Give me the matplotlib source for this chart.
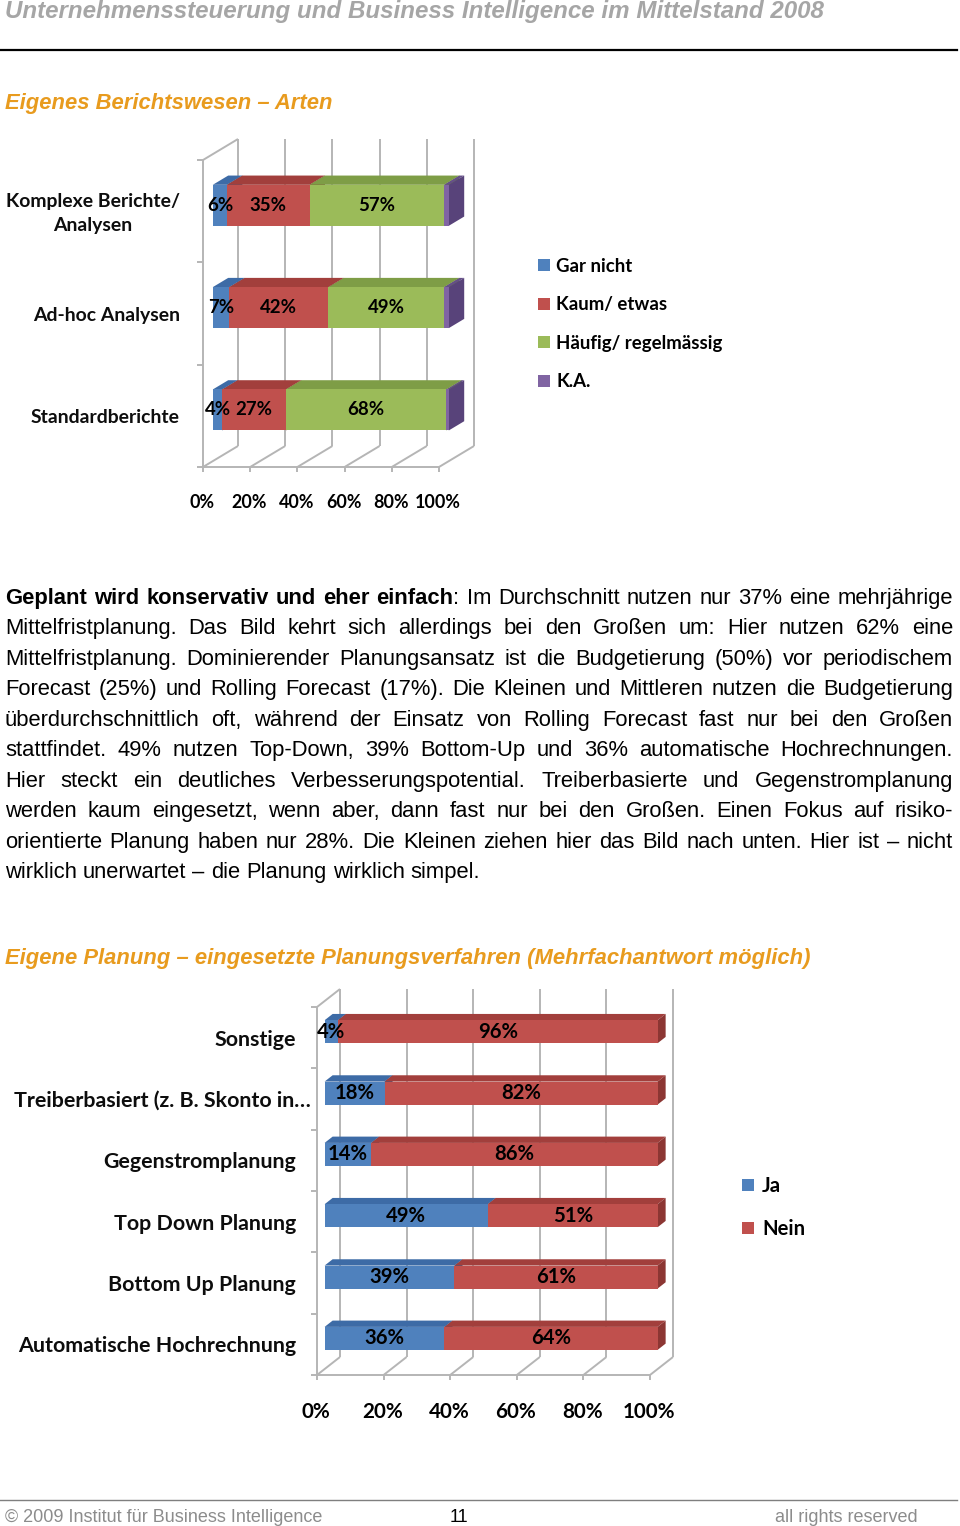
import re
import matplotlib
matplotlib.use('Agg')
import matplotlib.pyplot as plt
from matplotlib.patches import Polygon, Rectangle

W, H, DPI = 960, 1526, 100

# ---------------- DATA ----------------
header_text = "Unternehmenssteuerung und Business Intelligence im Mittelstand 2008"
title1 = "Eigenes Berichtswesen – Arten"
title2 = "Eigene Planung – eingesetzte Planungsverfahren (Mehrfachantwort möglich)"

c1_categories = ["Standardberichte", "Ad-hoc Analysen", "Komplexe Berichte/\nAnalysen"]
c1_series = ["Gar nicht", "Kaum/ etwas", "Häufig/ regelmässig", "K.A."]
c1_gar_nicht = [4, 7, 6]
c1_kaum = [27, 42, 35]
c1_haeufig = [68, 49, 57]
c1_ka = [1, 2, 2]
c1_ticks = [0, 20, 40, 60, 80, 100]
c1_tick_labels = ["0%", "20%", "40%", "60%", "80%", "100%"]

c2_categories = ["Automatische Hochrechnung", "Bottom Up Planung", "Top Down Planung",
                 "Gegenstromplanung", "Treiberbasiert (z. B. Skonto in…", "Sonstige"]
c2_series = ["Ja", "Nein"]
c2_ja = [36, 39, 49, 14, 18, 4]
c2_nein = [64, 61, 51, 86, 82, 96]
c2_ticks = [0, 20, 40, 60, 80, 100]
c2_tick_labels = ["0%", "20%", "40%", "60%", "80%", "100%"]

body_lines = [
    "**Geplant wird konservativ und eher einfach**: Im Durchschnitt nutzen nur 37% eine mehrjährige",
    "Mittelfristplanung. Das Bild kehrt sich allerdings bei den Großen um: Hier nutzen 62% eine",
    "Mittelfristplanung. Dominierender Planungsansatz ist die Budgetierung (50%) vor periodischem",
    "Forecast (25%) und Rolling Forecast (17%). Die Kleinen und Mittleren nutzen die Budgetierung",
    "überdurchschnittlich oft, während der Einsatz von Rolling Forecast fast nur bei den Großen",
    "stattfindet. 49% nutzen Top-Down, 39% Bottom-Up und 36% automatische Hochrechnungen.",
    "Hier steckt ein deutliches Verbesserungspotential. Treiberbasierte und Gegenstromplanung",
    "werden kaum eingesetzt, wenn aber, dann fast nur bei den Großen. Einen Fokus auf risiko-",
    "orientierte Planung haben nur 28%. Die Kleinen ziehen hier das Bild nach unten. Hier ist – nicht",
    "wirklich unerwartet – die Planung wirklich simpel.",
]
footer_left = "© 2009 Institut für Business Intelligence"
footer_page = "11"
footer_right = "all rights reserved"

# ---------------- STYLE ----------------
BLUE, RED, GREEN, PURPLE = '#4F81BD', '#C0504D', '#9BBB59', '#8064A2'
TOP = {BLUE: '#3D6BA6', RED: '#A23F3C', GREEN: '#7E9D46', PURPLE: '#654F88'}
SIDE = {BLUE: '#375D8C', RED: '#8C3633', GREEN: '#6F8A3C', PURPLE: '#58437A'}
ORANGE = '#E89B1E'
SANS = ['Liberation Sans', 'DejaVu Sans']
CHART = ['Lato', 'DejaVu Sans']

fig = plt.figure(figsize=(W / DPI, H / DPI), dpi=DPI)
fig.patch.set_facecolor('white')
renderer = fig.canvas.get_renderer()

page = fig.add_axes([0, 0, 1, 1])
page.set_xlim(0, W)
page.set_ylim(H, 0)
page.axis('off')


def text_width(s, size, **kw):
    t = page.text(0, 0, s, fontsize=size, **kw)
    w = t.get_window_extent(renderer).width
    t.remove()
    return w


def fit_size(s, target, **kw):
    return 20.0 * target / text_width(s, 20.0, **kw)


PT2PX = DPI / 72.0


def put(x, yc, s, size, ha='left', **kw):
    # yc = visual centre of the capitals in pixels
    page.text(x, yc + 0.36 * size * PT2PX, s, fontsize=size, ha=ha, va='baseline', **kw)


# ---------------- HEADER / TITLES ----------------
hs = fit_size(header_text, 817, family=SANS, weight='bold', style='italic')
put(5, 9, header_text, hs, family=SANS, weight='bold', style='italic', color='#A6A6A6')
page.plot([0, 957], [50, 50], color='black', lw=1.6)

ts = fit_size(title2, 805, family=SANS, weight='bold', style='italic')
put(5, 101, title1, ts, family=SANS, weight='bold', style='italic', color=ORANGE)
put(5, 956, title2, ts, family=SANS, weight='bold', style='italic', color=ORANGE)

# ---------------- BODY (justified) ----------------
bs = fit_size(body_lines[-1], 477, family=SANS)


def parse(line):
    segs = line.split('**')
    words, cur = [], []
    for k, seg in enumerate(segs):
        bold = (k % 2 == 1)
        for piece in re.split('( )', seg):
            if piece == ' ':
                if cur:
                    words.append(cur)
                cur = []
            elif piece:
                cur.append((piece, bold))
    if cur:
        words.append(cur)
    return words


L, R = 5, 953
space_w = text_width("a a", bs, family=SANS) - text_width("aa", bs, family=SANS)
for i, line in enumerate(body_lines):
    yc = 597 + 30.45 * i
    words = parse(line)
    widths = [[text_width(t, bs, family=SANS, weight='bold' if b else 'normal') for t, b in w] for w in words]
    total = sum(sum(ws) for ws in widths)
    last = (i == len(body_lines) - 1)
    gap = space_w if last else (R - L - total) / (len(words) - 1)
    x = L
    for w, ws in zip(words, widths):
        for (t, b), tw in zip(w, ws):
            put(x, yc - 1, t, bs, family=SANS, weight='bold' if b else 'normal', color='black')
            x += tw
        x += gap

# ---------------- FOOTER ----------------
page.plot([0, 957], [1500, 1500], color='#7F7F7F', lw=1.0)
fs = fit_size(footer_left, 317, family=SANS)
put(5, 1515, footer_left, fs, family=SANS, color='#8C8C8C')
put(459, 1515, footer_page, fs, family=SANS, color='black', ha='center')
put(918, 1515, footer_right, fs, family=SANS, color='#8C8C8C', ha='right')


# ---------------- 3D STACKED BAR CHARTS ----------------
def chart_axes(box, x0, sx, y0, sy):
    l, t, r, b = box
    ax = fig.add_axes([l / W, 1 - b / H, (r - l) / W, (b - t) / H])
    ax.set_xlim((l - x0) / sx, (r - x0) / sx)
    ax.set_ylim((y0 - b) / sy, (y0 - t) / sy)
    ax.axis('off')
    return ax


def draw_chart(ax, cats, series, colors, ticks, tick_labels, sx, sy, ddx, ddy, z0, z1, h,
               cat_size, lab_size, tick_size, cat_off, tick_off, min_label):
    P = lambda x, y, z: (x + z * ddx, y + z * ddy)
    ncat = len(cats)
    gc, glw = '#B5B5B5', 1.4

    def seg(a, b):
        ax.plot([a[0], b[0]], [a[1], b[1]], color=gc, lw=glw, zorder=1, solid_capstyle='butt')

    for v in ticks:
        seg(P(v, 0, 1), P(v, ncat, 1))          # back wall grid
        seg(P(v, 0, 0), P(v, 0, 1))             # floor grid
        seg(P(v, 0, 0), P(v, -5 / sy, 0))       # floor tick
    seg(P(ticks[0], 0, 0), P(ticks[-1], 0, 0))  # floor front edge
    seg(P(0, 0, 0), P(0, ncat, 0))              # left wall front edge
    seg(P(0, ncat, 0), P(0, ncat, 1))           # left wall top edge
    for k in range(ncat + 1):
        seg(P(0, k, 0), P(-6 / sx, k, 0))       # category ticks

    z = 3
    for i in range(ncat):
        yb, yt = i + 0.5 - h / 2, i + 0.5 + h / 2
        left = 0
        for vals, col in zip(series, colors):
            v = vals[i]
            x1, x2 = left, left + v
            ax.add_patch(Polygon([P(x1, yt, z0), P(x2, yt, z0), P(x2, yt, z1), P(x1, yt, z1)],
                                 closed=True, facecolor=TOP[col], edgecolor='none', zorder=z))
            ax.add_patch(Polygon([P(x2, yb, z0), P(x2, yb, z1), P(x2, yt, z1), P(x2, yt, z0)],
                                 closed=True, facecolor=SIDE[col], edgecolor='none', zorder=z))
            ax.barh(i + 0.5 + z0 * ddy, v, left=x1 + z0 * ddx, height=h, color=col,
                    edgecolor='none', zorder=z + 0.5)
            if v > min_label:
                cx, cy = P(x1 + v / 2, i + 0.5, z0)
                ax.text(cx, cy, f"{v}%", ha='center', va='center', fontsize=lab_size,
                        family=CHART, weight='bold', color='black', zorder=50)
            left = x2
            z += 1

    for i, c in enumerate(cats):
        off = cat_off if not c.endswith('…') else -6
        ax.annotate(c, xy=(0, i + 0.5), xytext=(off, -2), textcoords='offset pixels',
                    ha='right', va='center', multialignment='center', fontsize=cat_size,
                    family=CHART, weight='bold', color='#0D0D0D', linespacing=1.5)
    for v, lab in zip(ticks, tick_labels):
        ax.annotate(lab, xy=(v, 0), xytext=(-1, tick_off), textcoords='offset pixels',
                    ha='center', va='center', fontsize=tick_size, family=CHART,
                    weight='bold', color='black')


# Chart 1
sx1, sy1 = 2.36, 102.33
ax1 = chart_axes((0, 120, 520, 530), 203, sx1, 467, sy1)
draw_chart(ax1, c1_categories, [c1_gar_nicht, c1_kaum, c1_haeufig, c1_ka],
           [BLUE, RED, GREEN, PURPLE], c1_ticks, c1_tick_labels, sx1, sy1,
           ddx=35 / sx1, ddy=21 / sy1, z0=0.28, z1=0.72, h=41 / sy1,
           cat_size=fit_size("Standardberichte", 149, family=CHART, weight='bold'),
           lab_size=fit_size("57%", 37, family=CHART, weight='bold'),
           tick_size=fit_size("100%", 46, family=CHART, weight='bold'),
           cat_off=-23, tick_off=-35, min_label=2)

# Chart 2
sx2, sy2 = 3.33, 61.33
ax2 = chart_axes((0, 975, 700, 1440), 317, sx2, 1375, sy2)
draw_chart(ax2, c2_categories, [c2_ja, c2_nein], [BLUE, RED], c2_ticks, c2_tick_labels,
           sx2, sy2, ddx=23 / sx2, ddy=18 / sy2, z0=0.33, z1=0.68, h=23 / sy2,
           cat_size=fit_size("Automatische Hochrechnung", 277, family=CHART, weight='bold'),
           lab_size=fit_size("96%", 40, family=CHART, weight='bold'),
           tick_size=fit_size("100%", 53, family=CHART, weight='bold'),
           cat_off=-21, tick_off=-37, min_label=0)

# Legends
ls1 = fit_size("Häufig/ regelmässig", 166, family=CHART, weight='bold')
for k, (name, col) in enumerate(zip(c1_series, [BLUE, RED, GREEN, PURPLE])):
    yc = 265 + 38.5 * k
    page.add_patch(Rectangle((538, yc - 6), 12, 12, facecolor=col, edgecolor='none'))
    put(556, yc, name, ls1, family=CHART, weight='bold', color='black')

ls2 = fit_size("Nein", 43, family=CHART, weight='bold')
for k, (name, col) in enumerate(zip(c2_series, [BLUE, RED])):
    yc = 1185 + 43 * k
    page.add_patch(Rectangle((742, yc - 6), 12, 12, facecolor=col, edgecolor='none'))
    put(762, yc, name, ls2, family=CHART, weight='bold', color='black')

fig.savefig('out.png', dpi=DPI, facecolor='white')
